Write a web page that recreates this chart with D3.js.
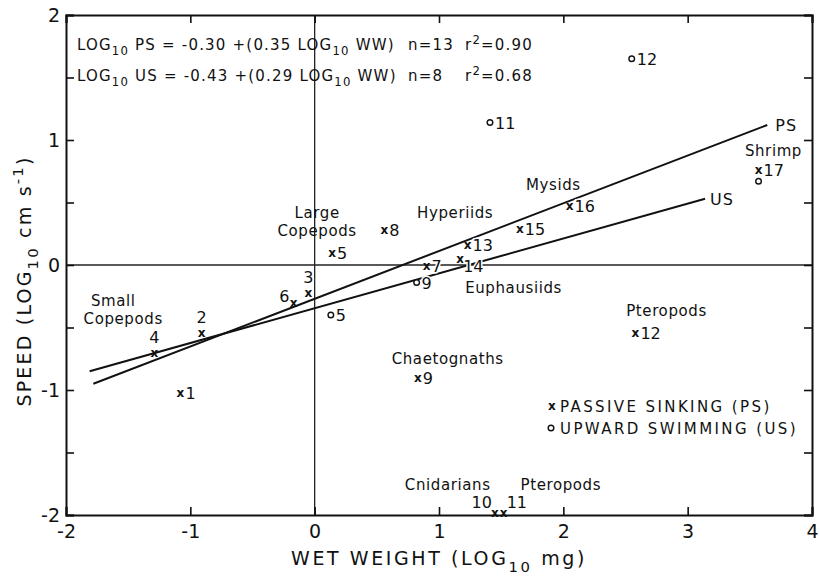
<!DOCTYPE html>
<html>
<head>
<meta charset="utf-8">
<script src="https://cdn.jsdelivr.net/npm/d3@7"></script>
<style>
  body { margin: 0; background: #fff; }
  text { font-family: "DejaVu Sans", sans-serif; fill: #111; }
</style>
</head>
<body>
<script>
// Chart settings
const width = 820;
const height = 580;
const margin = { top: 15, right: 8, bottom: 65, left: 66 };

// Data (log10 wet weight, log10 speed)
const psIds = ['1', '2', '3', '4', '5', '6', '7', '8', '9', '10', '11', '12', '13', '14', '15', '16', '17'];
const psWeight = [-1.08, -0.91, -0.05, -1.29, 0.14, -0.17, 0.90, 0.56, 0.83, 1.45, 1.52, 2.58, 1.23, 1.17, 1.65, 2.05, 3.57];
const psSpeed = [-1.02, -0.54, -0.22, -0.70, 0.10, -0.30, -0.01, 0.28, -0.90, -1.98, -1.98, -0.54, 0.16, 0.05, 0.29, 0.47, 0.76];

const usIds = ['5', '9', '11', '12', '17'];
const usWeight = [0.13, 0.82, 1.41, 2.55, 3.57];
const usSpeed = [-0.40, -0.14, 1.14, 1.65, 0.67];

// Fitted lines as drawn (end points)
const psLine = [[-1.78, -0.95], [3.64, 1.12]];
const usLine = [[-1.81, -0.85], [3.14, 0.53]];

const xTicks = [-2, -1, 0, 1, 2, 3, 4];
const yTicks = [-2, -1, 0, 1, 2];
const yMinorTicks = [-1.5, -0.5, 0.5, 1.5];

const groups = [
  { name: 'Small', x: -1.62, y: -0.33 },
  { name: 'Copepods', x: -1.54, y: -0.47 },
  { name: 'Large', x: 0.02, y: 0.38 },
  { name: 'Copepods', x: 0.02, y: 0.23 },
  { name: 'Hyperiids', x: 1.13, y: 0.38 },
  { name: 'Mysids', x: 1.92, y: 0.60 },
  { name: 'Euphausiids', x: 1.60, y: -0.22 },
  { name: 'Pteropods', x: 2.83, y: -0.41 },
  { name: 'Chaetognaths', x: 1.07, y: -0.79 },
  { name: 'Shrimp', x: 3.69, y: 0.87 },
  { name: 'Cnidarians', x: 1.07, y: -1.80 },
  { name: 'Pteropods', x: 1.98, y: -1.80 }
];

// where each point number sits relative to its marker
const psLabelPos = { '2': 'above', '3': 'above', '4': 'above', '6': 'left', '10': 'leftup', '11': 'rightup', '14': 'under' };

const svg = d3.select('body')
  .append('svg')
  .attr('width', width)
  .attr('height', height);

const x = d3.scaleLinear()
  .domain([-2, 4])
  .range([margin.left, width - margin.right]);

const y = d3.scaleLinear()
  .domain([-2, 2])
  .range([height - margin.bottom, margin.top]);

// zero lines
svg.append('line')
  .attr('x1', x(-2)).attr('x2', x(4))
  .attr('y1', y(0)).attr('y2', y(0))
  .attr('stroke', '#222').attr('stroke-width', 1.3);
svg.append('line')
  .attr('x1', x(0)).attr('x2', x(0))
  .attr('y1', y(-2)).attr('y2', y(2))
  .attr('stroke', '#222').attr('stroke-width', 1.3);

// axes (ticks inward)
const styleAxis = g => {
  g.select('.domain').attr('stroke', '#111').attr('stroke-width', 2);
  g.selectAll('.tick line').attr('stroke', '#111').attr('stroke-width', 1.6);
  g.selectAll('.tick text').style('font-size', '19px').attr('fill', '#111');
};

svg.append('g')
  .attr('transform', `translate(0, ${y(-2)})`)
  .call(d3.axisBottom(x).tickValues(xTicks).tickSize(-8).tickPadding(10).tickFormat(d3.format('')))
  .call(styleAxis)
  .call(g => g.selectAll('.tick text').text(d => d < 0 ? '-' + Math.abs(d) : d));

svg.append('g')
  .attr('transform', `translate(0, ${y(2)})`)
  .call(d3.axisTop(x).tickValues(xTicks).tickSize(-8).tickFormat(''))
  .call(styleAxis);

svg.append('g')
  .attr('transform', `translate(${x(-2)}, 0)`)
  .call(d3.axisLeft(y).tickValues(yTicks).tickSize(-8).tickPadding(6).tickFormat(d3.format('')))
  .call(styleAxis)
  .call(g => g.selectAll('.tick text').text(d => d < 0 ? '-' + Math.abs(d) : d));

svg.append('g')
  .attr('transform', `translate(${x(-2)}, 0)`)
  .call(d3.axisLeft(y).tickValues(yMinorTicks).tickSize(-8).tickFormat(''))
  .call(styleAxis)
  .call(g => g.select('.domain').remove());

svg.append('g')
  .attr('transform', `translate(${x(4)}, 0)`)
  .call(d3.axisRight(y).tickValues(yTicks.concat(yMinorTicks)).tickSize(-8).tickFormat(''))
  .call(styleAxis);

// regression lines
const line = d3.line().x(d => x(d[0])).y(d => y(d[1]));
svg.append('path').attr('d', line(psLine)).attr('fill', 'none').attr('stroke', '#111').attr('stroke-width', 2);
svg.append('path').attr('d', line(usLine)).attr('fill', 'none').attr('stroke', '#111').attr('stroke-width', 2);

svg.append('text').attr('x', x(psLine[1][0]) + 8).attr('y', y(psLine[1][1]) + 6)
  .style('font-size', '16px').style('letter-spacing', '1px').text('PS');
svg.append('text').attr('x', x(usLine[1][0]) + 5).attr('y', y(usLine[1][1]) + 6)
  .style('font-size', '16px').style('letter-spacing', '1px').text('US');

// rich text helper: parts of [text, 'sub' | 'sup' | undefined]
function rich(g, px, py, parts, size) {
  const t = g.append('text').attr('x', px).attr('y', py).style('font-size', size + 'px');
  let cur = 0;
  parts.forEach(([s, kind]) => {
    const target = kind === 'sub' ? size * 0.35 : kind === 'sup' ? -size * 0.4 : 0;
    t.append('tspan')
      .attr('dy', target - cur)
      .style('font-size', kind ? (size * 0.78) + 'px' : null)
      .text(s);
    cur = target;
  });
  return t;
}

const eq = svg.append('g').style('letter-spacing', '1.2px');
rich(eq, 77, 50, [['LOG'], ['10', 'sub'], [' PS = -0.30 +(0.35 LOG'], ['10', 'sub'], [' WW)']], 15);
rich(eq, 408, 50, [['n=13']], 15);
rich(eq, 465, 50, [['r'], ['2', 'sup'], ['=0.90']], 15);
rich(eq, 77, 81, [['LOG'], ['10', 'sub'], [' US = -0.43 +(0.29 LOG'], ['10', 'sub'], [' WW)']], 15);
rich(eq, 408, 81, [['n=8']], 15);
rich(eq, 465, 81, [['r'], ['2', 'sup'], ['=0.68']], 15);

// group labels
svg.append('g')
  .selectAll('text')
  .data(groups)
  .join('text')
  .attr('x', d => x(d.x))
  .attr('y', d => y(d.y))
  .attr('text-anchor', 'middle')
  .style('font-size', '15px')
  .style('letter-spacing', '0.6px')
  .text(d => d.name);

// passive sinking markers
const ps = psIds.map((id, i) => ({ id, w: psWeight[i], s: psSpeed[i] }));
const psG = svg.append('g');
ps.forEach(d => {
  const px = x(d.w), py = y(d.s);
  const pos = psLabelPos[d.id] || 'right';
  psG.append('text').attr('x', px).attr('y', py + 4).attr('text-anchor', 'middle')
    .style('font-size', '12px').style('font-weight', 'bold').text('x');
  let lx = px + 5, ly = py + 6, anchor = 'start';
  if (pos === 'above') { lx = px; ly = py - 10; anchor = 'middle'; }
  if (pos === 'left') { lx = px - 4; ly = py - 1; anchor = 'end'; }
  if (pos === 'leftup') { lx = px - 3; ly = py - 5; anchor = 'end'; }
  if (pos === 'rightup') { lx = px + 3; ly = py - 5; anchor = 'start'; }
  if (pos === 'under') { lx = px + 3; ly = py + 13; anchor = 'start'; }
  psG.append('text').attr('x', lx).attr('y', ly).attr('text-anchor', anchor)
    .style('font-size', '16px')
    .attr('stroke', '#fff').attr('stroke-width', 3).attr('paint-order', 'stroke')
    .text(d.id);
});

// upward swimming markers
const us = usIds.map((id, i) => ({ id, w: usWeight[i], s: usSpeed[i] }));
const usG = svg.append('g');
us.forEach(d => {
  const px = x(d.w), py = y(d.s);
  usG.append('circle').attr('cx', px).attr('cy', py).attr('r', 2.8)
    .attr('fill', '#fff').attr('stroke', '#111').attr('stroke-width', 1.4);
  if (d.id !== '17') {
    usG.append('text').attr('x', px + 5).attr('y', py + 6)
      .style('font-size', '16px')
      .attr('stroke', '#fff').attr('stroke-width', 3).attr('paint-order', 'stroke')
      .text(d.id);
  }
});

// legend
const legend = svg.append('g').style('font-size', '15px').style('letter-spacing', '2.4px');
legend.append('text').attr('x', 548).attr('y', 410).style('font-size', '12px').style('font-weight', 'bold').text('x');
legend.append('text').attr('x', 560).attr('y', 412).text('PASSIVE SINKING (PS)');
legend.append('circle').attr('cx', 551).attr('cy', 428).attr('r', 2.8).attr('fill', '#fff').attr('stroke', '#111').attr('stroke-width', 1.4);
legend.append('text').attr('x', 560).attr('y', 434).text('UPWARD SWIMMING (US)');

// axis titles
rich(svg, 0, 0, [['WET WEIGHT (LOG'], ['10', 'sub'], [' mg)']], 19)
  .attr('x', 439).attr('y', 565).attr('text-anchor', 'middle').style('letter-spacing', '2.6px');

rich(svg, 0, 0, [['SPEED (LOG'], ['10', 'sub'], [' cm s'], ['-1', 'sup'], [')']], 19)
  .attr('text-anchor', 'middle').style('letter-spacing', '2.2px')
  .attr('transform', `translate(31, 281) rotate(-90)`);
</script>
</body>
</html>
